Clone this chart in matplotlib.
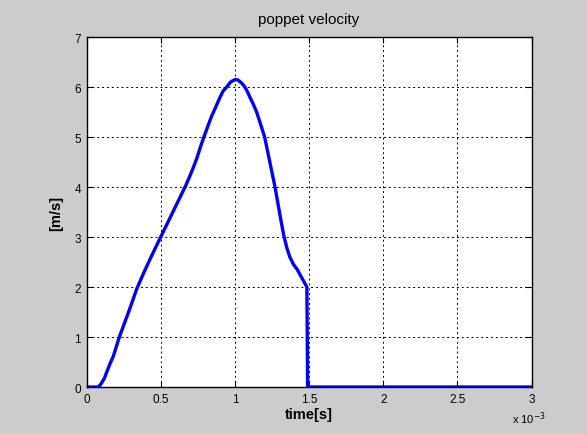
import numpy as np
import matplotlib
matplotlib.use('Agg')
import matplotlib.pyplot as plt

# poppet velocity (time in ms, i.e. x 10^-3 s)
time_ms = [0.0, 0.08, 0.10, 0.12, 0.135, 0.155, 0.18, 0.22, 0.25, 0.28,
           0.31, 0.337, 0.378, 0.418, 0.458, 0.499, 0.54, 0.581, 0.622, 0.663,
           0.69, 0.715, 0.742, 0.767, 0.79, 0.815, 0.84, 0.87, 0.90, 0.92,
           0.944, 0.97, 1.0, 1.02, 1.045, 1.067, 1.085, 1.10, 1.12, 1.146,
           1.17, 1.20, 1.235, 1.27, 1.31, 1.33, 1.35, 1.37, 1.395, 1.42,
           1.44, 1.485, 1.49, 3.0]
velocity = [0.0, 0.0, 0.08, 0.18, 0.3, 0.45, 0.62, 1.0, 1.24, 1.48,
            1.73, 1.96, 2.24, 2.5, 2.75, 3.0, 3.25, 3.5, 3.75, 4.0,
            4.18, 4.36, 4.57, 4.8, 5.0, 5.2, 5.4, 5.6, 5.8, 5.92,
            6.0, 6.1, 6.15, 6.14, 6.08, 6.0, 5.9, 5.8, 5.68, 5.5,
            5.28, 5.0, 4.5, 4.0, 3.33, 3.02, 2.78, 2.6, 2.45, 2.35,
            2.24, 2.0, 0.0, 0.0]
xticks = [0, 0.5, 1, 1.5, 2, 2.5, 3]
yticks = [0, 1, 2, 3, 4, 5, 6, 7]

plt.rcParams['font.family'] = ['Liberation Sans', 'DejaVu Sans']

fig = plt.figure(figsize=(5.87, 4.35), dpi=100, facecolor='#cccccc')
ax = fig.add_axes([0.1477, 0.108, 0.7578, 0.8046])
ax.set_facecolor('white')

ax.plot(time_ms, velocity, color='#0000ff', lw=2.4, solid_joinstyle='round')

ax.set_xlim(0, 3)
ax.set_ylim(0, 7)
ax.set_xticks(xticks)
ax.set_xticklabels(['0', '0.5', '1', '1.5', '2', '2.5', '3'])
ax.set_yticks(yticks)
ax.tick_params(direction='in', length=4, width=0.8, labelsize=8.5, pad=4,
               top=True, right=True, colors='black')
ax.grid(True, color='black', ls=(0, (2, 3)), lw=0.7)
for sp in ax.spines.values():
    sp.set_linewidth(1.0)
    sp.set_color('black')

ax.set_title('poppet velocity', fontsize=11, pad=10)
ax.set_xlabel('time[s]', fontsize=10.5, fontweight='bold', labelpad=2)
ax.set_ylabel('[m/s]', fontsize=10.5, fontweight='bold', labelpad=8)
fig.text(0.872, 0.018, 'x 10$^{\\mathrm{-3}}$', fontsize=8, ha='left', va='bottom')

fig.savefig('out.png', dpi=100, facecolor=fig.get_facecolor())
